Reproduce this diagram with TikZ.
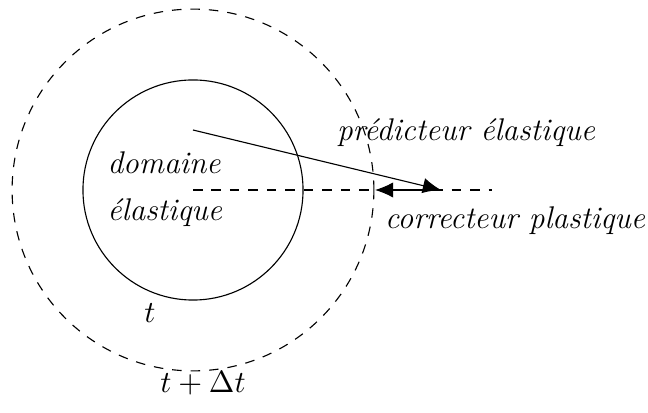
\documentclass[tikz,border=0pt]{standalone}
\usetikzlibrary{arrows.meta}
\begin{document}
\begin{tikzpicture}[x=0.3571pt,y=-0.3571pt,
  every node/.style={font=\fontsize{11.2}{14}\selectfont},
  lbl/.style={inner sep=0pt,font=\fontsize{11.2}{14}\selectfont\itshape},
  dsh/.style={dash pattern=on 3.4pt off 3.2pt},
  arr/.style={-{Latex[length=6.5pt,width=5.5pt]}}]
\useasboundingbox (0,0) rectangle (648,413);
\coordinate (c) at (193,190);
\draw (c) circle[radius=39.3pt];
\draw[dsh] (c) circle[radius=64.6pt];
\coordinate (s) at (193,130);
\coordinate (p) at (441,190);
\coordinate (q) at (375,190);
\coordinate (e) at (492,190);
\draw[dsh] (c) -- (e);
\draw[arr] (s) -- (p);
\draw[arr] (p) -- (q);
\node[lbl,align=left,anchor=west] (d) at (107,189) {domaine\\[3pt]élastique};
\node[lbl] (pe) at (466,133) {prédicteur élastique};
\node[lbl] (cp) at (515,221) {correcteur plastique};
\node[inner sep=0pt] (t) at (150,313) {$t$};
\node[inner sep=0pt] (tdt) at (203,383) {$t+\Delta t$};
\end{tikzpicture}
\end{document}
